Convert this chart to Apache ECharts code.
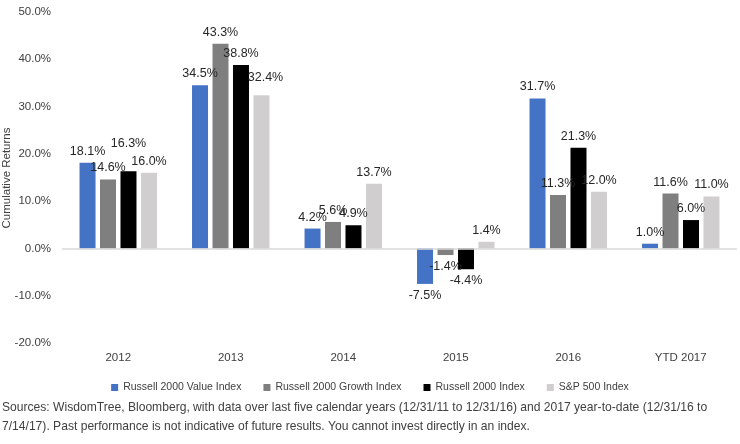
<!DOCTYPE html>
<html>
<head>
<meta charset="utf-8">
<script src="https://cdn.jsdelivr.net/npm/echarts@6/dist/echarts.min.js"></script>
<style>
  html, body { margin: 0; padding: 0; background: #fff; }
  #chart { width: 740px; height: 444px; }
</style>
</head>
<body>
<div id="chart"></div>
<script>
const categories = ['2012', '2013', '2014', '2015', '2016', 'YTD 2017'];
const valueIndex = [18.1, 34.5, 4.2, -7.5, 31.7, 1.0];
const growthIndex = [14.6, 43.3, 5.6, -1.4, 11.3, 11.6];
const r2000Index = [16.3, 38.8, 4.9, -4.4, 21.3, 6.0];
const sp500Index = [16.0, 32.4, 13.7, 1.4, 12.0, 11.0];

const seriesDefs = [
  { name: 'Russell 2000 Value Index', data: valueIndex, color: '#4472C4' },
  { name: 'Russell 2000 Growth Index', data: growthIndex, color: '#7F7F7F' },
  { name: 'Russell 2000 Index', data: r2000Index, color: '#000000' },
  { name: 'S&P 500 Index', data: sp500Index, color: '#D0CECE' },
];

// hand-moved labels, like the original
const labelNudge = { '2-0': [0, -16], '3-1': [4, -6] };

const font = 'Liberation Sans, Arial, sans-serif';
const chart = echarts.init(document.getElementById('chart'));

chart.setOption({
  animation: false,
  grid: { left: 62, right: 3, top: 12, bottom: 101, outerBoundsMode: 'none', containLabel: false },
  legend: {
    top: 377, left: 'center',
    icon: 'rect', itemWidth: 7, itemHeight: 7, itemGap: 22,
    textStyle: { fontFamily: font, fontSize: 10.5, color: '#404040' },
  },
  xAxis: {
    type: 'category',
    data: categories,
    axisLine: { show: false },
    axisTick: { show: false },
    axisLabel: { fontFamily: font, fontSize: 11.5, color: '#404040', margin: 9 },
  },
  yAxis: {
    type: 'value',
    min: -20, max: 50, interval: 10,
    axisLine: { show: false },
    axisTick: { show: false },
    splitLine: { show: false },
    axisLabel: { fontFamily: font, fontSize: 11.5, color: '#404040', margin: 11, formatter: v => v.toFixed(1) + '%' },
  },
  series: seriesDefs.map((s, si) => ({
    name: s.name,
    type: 'bar',
    barWidth: 16,
    barGap: '28%',
    itemStyle: { color: s.color },
    data: s.data.map((v, ci) => {
      const nudge = labelNudge[si + '-' + ci];
      const item = { value: v };
      if (nudge) item.label = { offset: nudge };
      return item;
    }),
    label: {
      show: true,
      position: 'outside',
      distance: 5,
      fontFamily: font, fontSize: 12.5, color: '#262626',
      formatter: p => p.value.toFixed(1) + '%',
    },
    markLine: si === 0 ? {
      silent: true, symbol: 'none', label: { show: false },
      lineStyle: { color: '#D9D9D9', width: 1.5, type: 'solid' },
      data: [{ yAxis: 0 }],
    } : undefined,
  })),
  graphic: [
    {
      type: 'text', x: 7, y: 178, rotation: Math.PI / 2,
      style: {
        text: 'Cumulative Returns', align: 'center', verticalAlign: 'middle',
        fontFamily: font, fontSize: 11.5, fill: '#404040',
      },
    },
    {
      type: 'text', left: 2, top: 398,
      style: {
        text: 'Sources: WisdomTree, Bloomberg, with data over last five calendar years (12/31/11 to 12/31/16) and 2017 year-to-date (12/31/16 to\n7/14/17). Past performance is not indicative of future results. You cannot invest directly in an index.',
        fontFamily: font, fontSize: 12.1, lineHeight: 19, fill: '#404040',
      },
    },
  ],
});
</script>
</body>
</html>
